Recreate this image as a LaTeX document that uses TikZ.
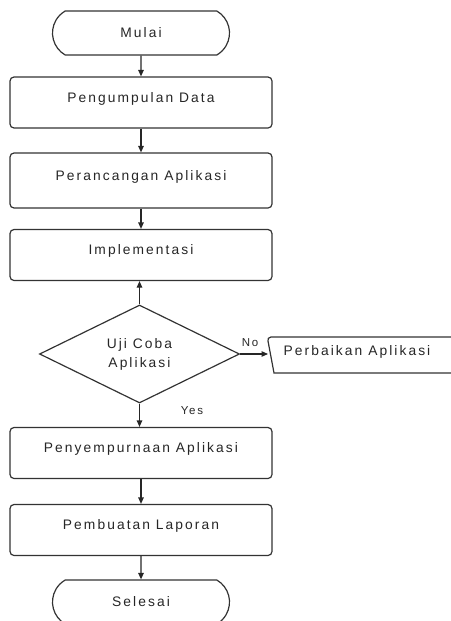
\documentclass[tikz,border=0pt]{standalone}
\usepackage{fontspec}
\setmainfont{Liberation Sans}[LetterSpace=15]
\usetikzlibrary{shapes.geometric,shapes.misc,arrows.meta}

\begin{document}
\begin{tikzpicture}[x=1pt,y=-1pt,
  every node/.style={font=\fontsize{13.8}{15}\selectfont, text=black!85},
  line/.style={draw=black!80, line width=1.2pt},
  procbox/.style={line, rectangle, rounded corners=4pt, minimum width=262pt,
    minimum height=51pt, text height=9pt, text depth=10pt, inner sep=0pt},
  term/.style={line, rounded rectangle, rounded rectangle arc length=120,
    minimum width=177pt, minimum height=44pt, inner sep=0pt},
  decision/.style={line, diamond, minimum width=200pt, minimum height=98pt,
    inner sep=0pt, align=center, font=\fontsize{13.8}{19}\selectfont},
  flow/.style={draw=black!85, line width=1.2pt, -{Triangle[length=6.5pt,width=5.5pt]}},
  tag/.style={font=\fontsize{11.5}{13}\selectfont}
]
\useasboundingbox (0,0) rectangle (450,621);

% main column
\node[term]    (start)  at (141,33)    {Mulai};
\node[procbox] (collect) at (141,102.5) {Pengumpulan Data};
\node[procbox, minimum height=55pt] (design) at (141,180.5) {Perancangan Aplikasi};
\node[procbox] (impl)   at (141,255)   {Implementasi};
\node[decision] (test)  at (139.5,354) {Uji Coba\\Aplikasi};
\node[procbox] (refine) at (141,453)   {Penyempurnaan Aplikasi};
\node[procbox] (report) at (141,530)   {Pembuatan Laporan};
\node[term]    (finish) at (141,602)   {Selesai};

% side branch: repair step
\node (fix) at (357,352) {Perbaikan Aplikasi};
\coordinate (fixin) at (268,354);
\draw[line] (455,337) -- (271,337) .. controls (268,337) and (268,339) .. (268,341)
  -- (274,373) -- (455,373);

% connectors
\draw[flow] (start) -- (collect);
\draw[flow] (collect) -- (design);
\draw[flow] (design) -- (impl);
\draw[flow] (test.north) -- (test.north |- impl.south);
\draw[flow] (test.east) -- (fixin);
\draw[flow] (test.south) -- (test.south |- refine.north);
\draw[flow] (refine) -- (report);
\draw[flow] (report) -- (finish);

% branch labels
\node[tag] (no)  at (250,343) {No};
\node[tag] (yes) at (192,411) {Yes};
\end{tikzpicture}
\end{document}
